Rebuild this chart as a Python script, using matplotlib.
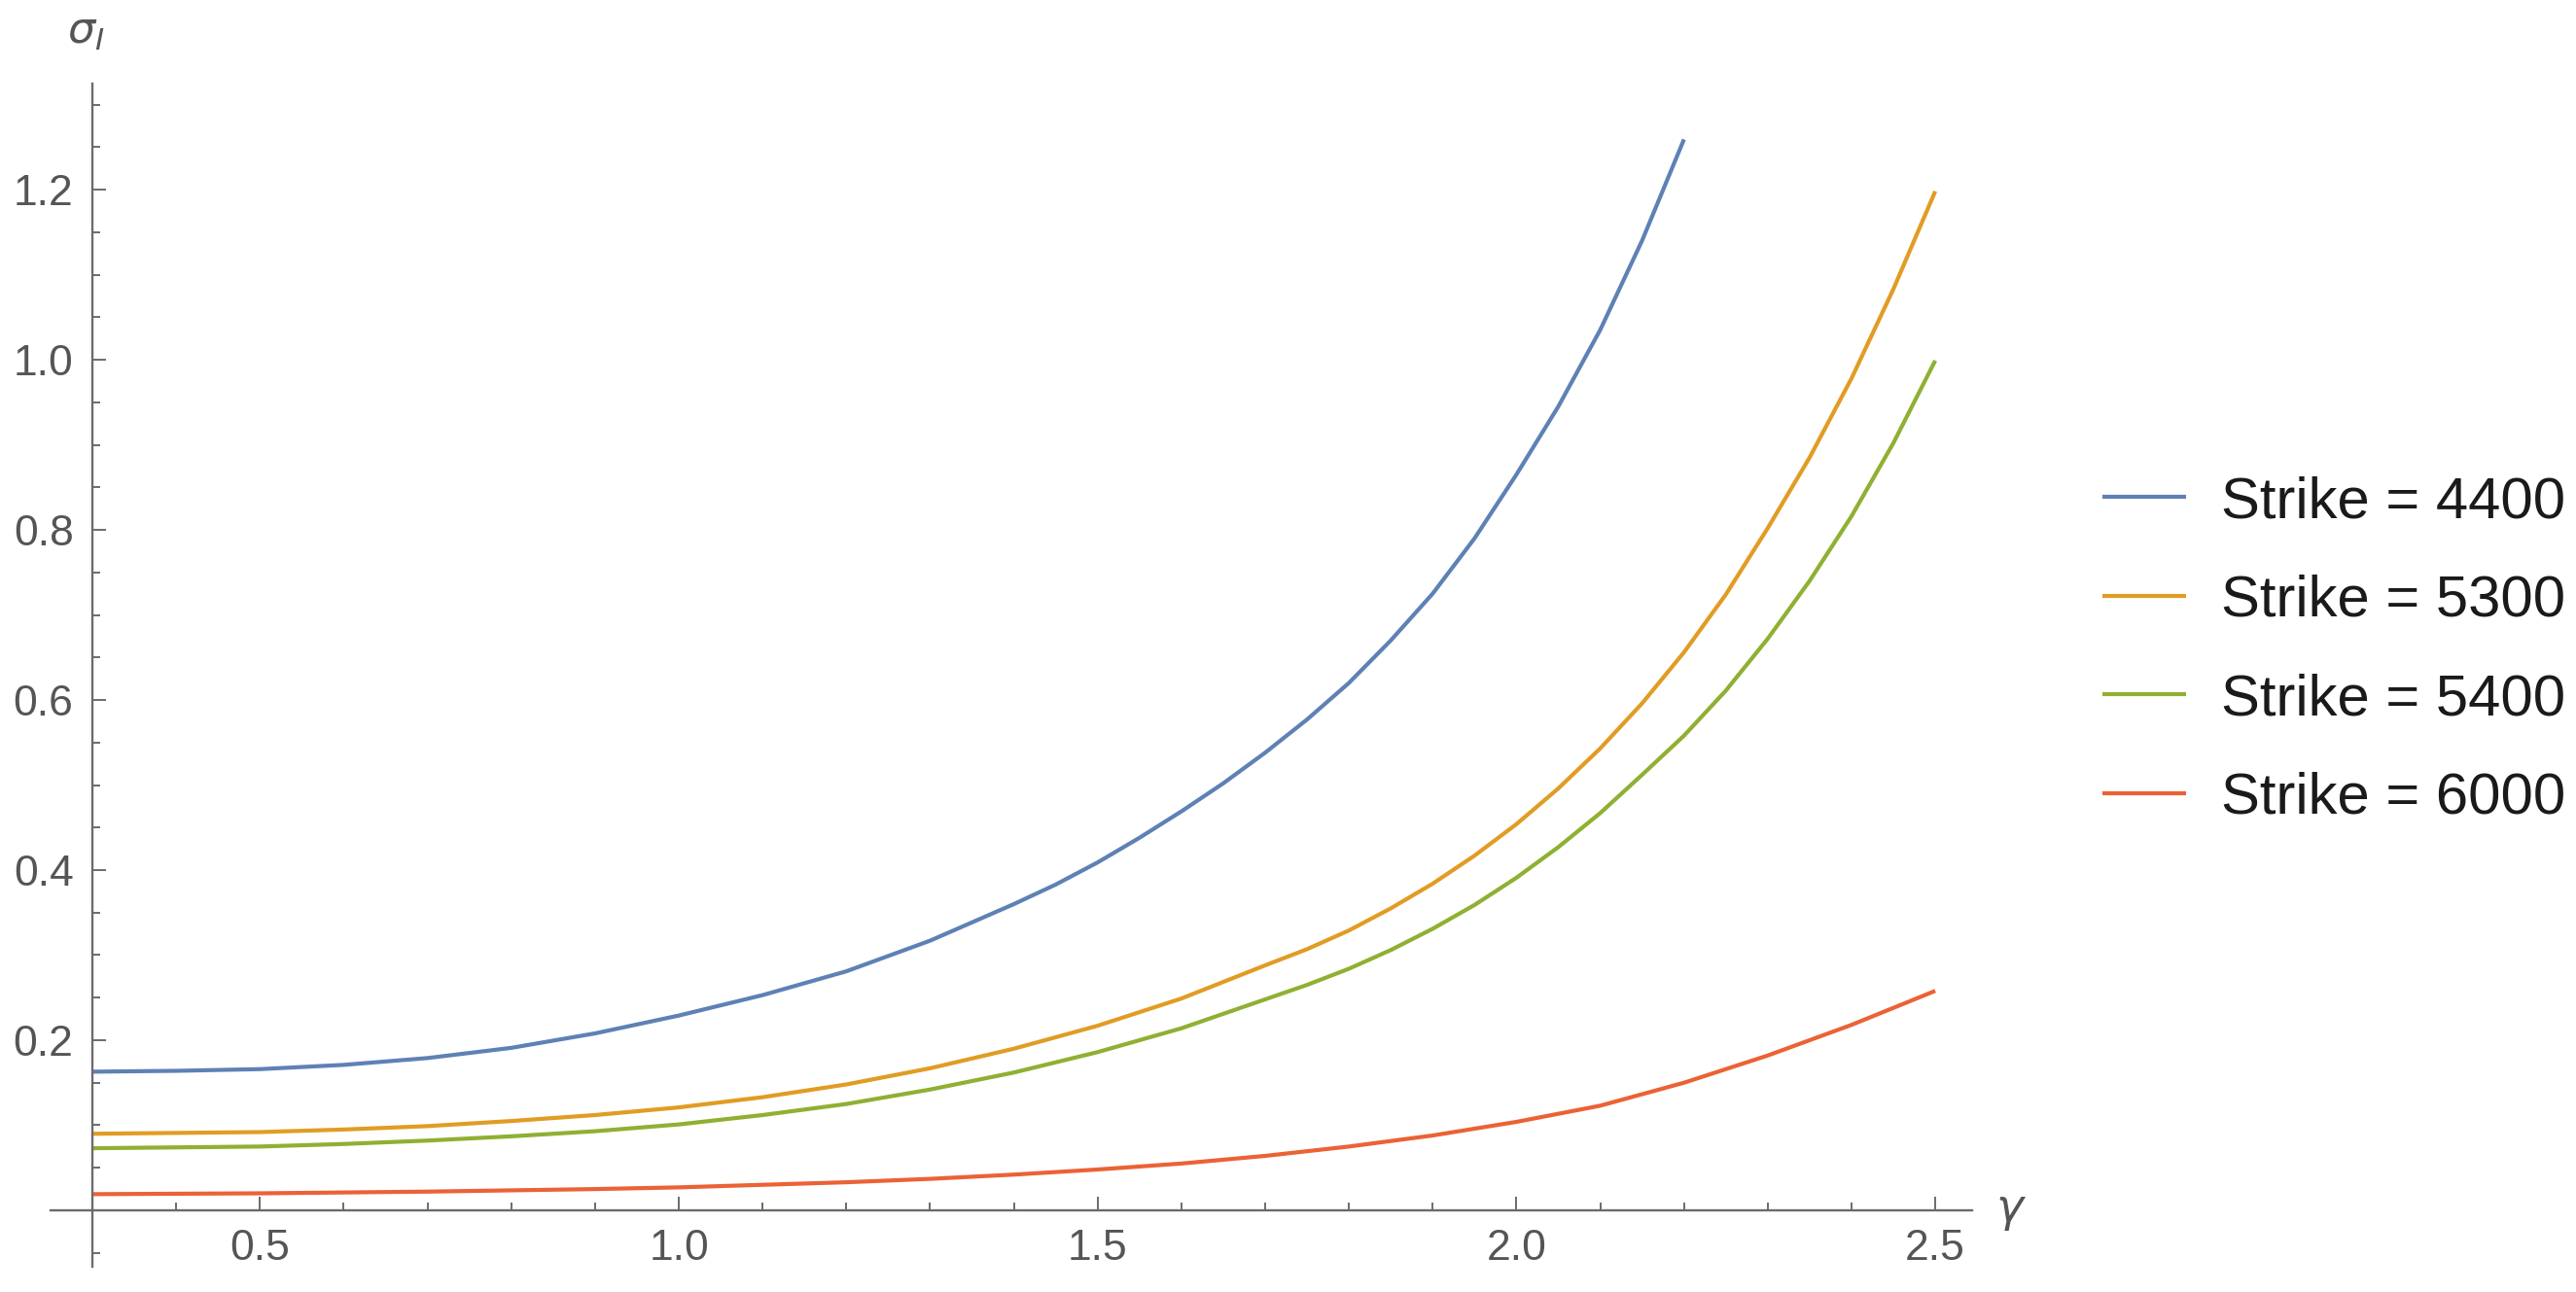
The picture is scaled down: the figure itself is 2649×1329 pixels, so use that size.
import matplotlib
matplotlib.use("Agg")
import matplotlib.pyplot as plt
from matplotlib.ticker import FixedLocator
import numpy as np

plt.rcParams['font.family'] = ['Liberation Sans', 'DejaVu Sans']
plt.rcParams['mathtext.fontset'] = 'dejavusans'

# значения
labels = ["Strike = 4400", "Strike = 5300", "Strike = 5400", "Strike = 6000"]
colors = ["#5E81B5", "#E19C24", "#8FB032", "#EB6235"]

g_4400 = [0.30, 0.40, 0.50, 0.60, 0.70, 0.80, 0.90, 1.00, 1.10, 1.20, 1.30, 1.40,
          1.45, 1.50, 1.55, 1.60, 1.65, 1.70, 1.75, 1.80, 1.85, 1.90, 1.95,
          2.00, 2.05, 2.10, 2.15, 2.20]
s_4400 = [0.163, 0.164, 0.166, 0.171, 0.179, 0.191, 0.208, 0.229, 0.253, 0.281, 0.317, 0.360,
          0.383, 0.409, 0.438, 0.469, 0.502, 0.538, 0.577, 0.620, 0.670, 0.725, 0.790,
          0.865, 0.945, 1.035, 1.140, 1.259]

g_5300 = [0.30, 0.40, 0.50, 0.60, 0.70, 0.80, 0.90, 1.00, 1.10, 1.20, 1.30, 1.40,
          1.50, 1.60, 1.70, 1.75, 1.80, 1.85, 1.90, 1.95, 2.00, 2.05, 2.10, 2.15,
          2.20, 2.25, 2.30, 2.35, 2.40, 2.45, 2.50]
s_5300 = [0.090, 0.091, 0.092, 0.095, 0.099, 0.105, 0.112, 0.121, 0.133, 0.148, 0.167, 0.190,
          0.217, 0.249, 0.288, 0.307, 0.329, 0.355, 0.384, 0.417, 0.454, 0.496, 0.543, 0.596,
          0.656, 0.724, 0.802, 0.885, 0.978, 1.083, 1.198]

g_5400 = [0.30, 0.40, 0.50, 0.60, 0.70, 0.80, 0.90, 1.00, 1.10, 1.20, 1.30, 1.40,
          1.50, 1.60, 1.70, 1.75, 1.80, 1.85, 1.90, 1.95, 2.00, 2.05, 2.10, 2.15,
          2.20, 2.25, 2.30, 2.35, 2.40, 2.45, 2.50]
s_5400 = [0.073, 0.074, 0.075, 0.078, 0.082, 0.087, 0.093, 0.101, 0.112, 0.125, 0.142, 0.162,
          0.186, 0.214, 0.248, 0.265, 0.284, 0.306, 0.331, 0.359, 0.391, 0.427, 0.467, 0.512,
          0.558, 0.611, 0.672, 0.740, 0.816, 0.902, 0.999]

g_6000 = [0.30, 0.50, 0.70, 0.90, 1.00, 1.10, 1.20, 1.30, 1.40, 1.50, 1.60, 1.70,
          1.80, 1.90, 2.00, 2.10, 2.20, 2.25, 2.30, 2.35, 2.40, 2.45, 2.50]
s_6000 = [0.019, 0.020, 0.022, 0.025, 0.027, 0.030, 0.033, 0.037, 0.042, 0.048, 0.055, 0.064,
          0.075, 0.088, 0.104, 0.123, 0.150, 0.166, 0.182, 0.200, 0.218, 0.238, 0.258]

gammas = [g_4400, g_5300, g_5400, g_6000]
sigmas = [s_4400, s_5300, s_5400, s_6000]

x_major = [0.5, 1.0, 1.5, 2.0, 2.5]
y_major = [0.2, 0.4, 0.6, 0.8, 1.0, 1.2]

W, H = 2649, 1329
fig = plt.figure(figsize=(W / 100, H / 100), dpi=100)
# оси в пикселях: x 52..2028, y 86..1303
ax = fig.add_axes([52 / W, (H - 1303) / H, 1976 / W, 1217 / H])
ax.set_xlim(0.25, 2.544)
ax.set_ylim(-0.0663, 1.3246)

axis_col = "#6b6b6b"
for name in ["top", "right"]:
    ax.spines[name].set_visible(False)
ax.spines["left"].set_position(("data", 0.3))
ax.spines["bottom"].set_position(("data", 0.0))
for name in ["left", "bottom"]:
    ax.spines[name].set_color(axis_col)
    ax.spines[name].set_linewidth(1.7)

for g, s, c, lab in zip(gammas, sigmas, colors, labels):
    ax.plot(g, s, color=c, lw=3.0, label=lab, solid_capstyle="butt",
            solid_joinstyle="round")

ax.xaxis.set_major_locator(FixedLocator(x_major))
x_minor = [round(v, 2) for v in np.arange(0.4, 2.51, 0.1) if round(v * 10) % 5 != 0]
ax.xaxis.set_minor_locator(FixedLocator(x_minor))
ax.yaxis.set_major_locator(FixedLocator(y_major))
y_minor = [round(v, 2) for v in np.arange(-0.05, 1.31, 0.05)
           if abs(v) > 1e-6 and min(abs(v - m) for m in y_major) > 1e-6]
ax.yaxis.set_minor_locator(FixedLocator(y_minor))

ax.set_xticklabels(["0.5", "1.0", "1.5", "2.0", "2.5"])
ax.set_yticklabels(["0.2", "0.4", "0.6", "0.8", "1.0", "1.2"])

ax.tick_params(axis="both", which="major", direction="in", length=10, width=1.4,
               color=axis_col, labelsize=32, labelcolor="#555555")
ax.tick_params(axis="both", which="minor", direction="in", length=6, width=1.4,
               color=axis_col)
ax.tick_params(axis="x", which="major", pad=14)
ax.tick_params(axis="y", which="major", pad=14)

fig.text(2068 / W, 1 - 1246 / H, r"$\gamma$", fontsize=34, color="#555555",
         ha="center", va="center")
fig.text(88 / W, 1 - 34 / H, r"$\sigma_I$", fontsize=32, color="#555555",
         ha="center", va="center")

ax.legend(loc="center left", bbox_to_anchor=(2162 / W, 1 - 669 / H),
          bbox_transform=fig.transFigure, frameon=False, fontsize=43,
          handlelength=1.44, handletextpad=0.6, labelspacing=0.78,
          borderpad=0, borderaxespad=0, labelcolor="#1a1a1a")

fig.savefig("out.png", dpi=100)
